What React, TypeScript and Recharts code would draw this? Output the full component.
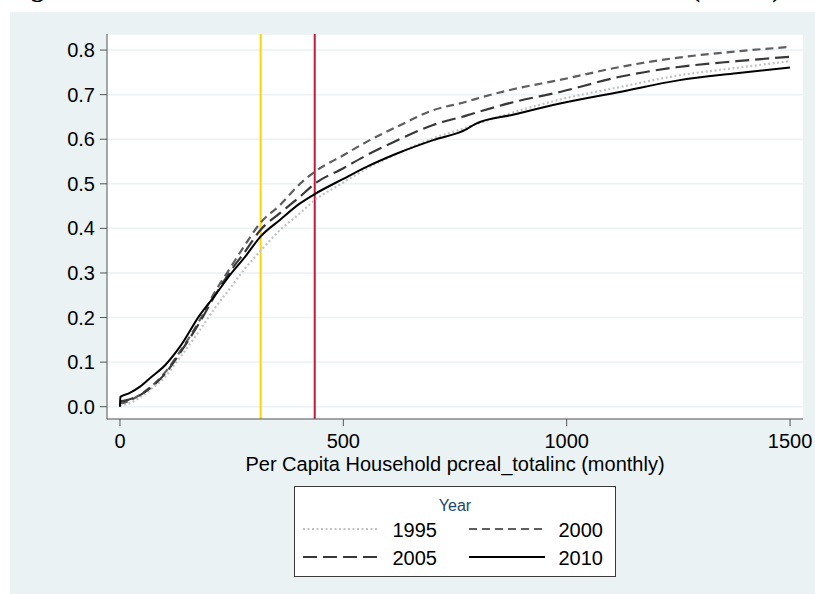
import React from 'react';
import { LineChart, Line, XAxis, YAxis, CartesianGrid, ReferenceLine } from 'recharts';

// Per capita household income (monthly)
const income = [0, 1, 20, 45, 67, 101, 134, 179, 213, 246, 280, 315, 358, 403, 436, 500, 552, 620, 701, 775, 795, 880, 985, 1119, 1250, 1380, 1500];
const cdf1995 = [0.001, 0.002, 0.007, 0.021, 0.037, 0.067, 0.11, 0.172, 0.222, 0.265, 0.31, 0.35, 0.396, 0.434, 0.463, 0.503, 0.534, 0.567, 0.602, 0.626, 0.633, 0.66, 0.689, 0.717, 0.743, 0.76, 0.775];
const cdf2000 = [0.008, 0.008, 0.013, 0.027, 0.043, 0.077, 0.123, 0.195, 0.258, 0.31, 0.363, 0.413, 0.452, 0.5, 0.527, 0.564, 0.594, 0.628, 0.665, 0.684, 0.69, 0.712, 0.733, 0.762, 0.783, 0.797, 0.807];
const cdf2005 = [0.012, 0.012, 0.016, 0.026, 0.041, 0.074, 0.12, 0.19, 0.25, 0.302, 0.348, 0.397, 0.434, 0.471, 0.5, 0.535, 0.564, 0.597, 0.632, 0.653, 0.659, 0.683, 0.706, 0.74, 0.762, 0.775, 0.785];
const cdf2010 = [0.0, 0.022, 0.03, 0.045, 0.064, 0.093, 0.134, 0.206, 0.25, 0.295, 0.336, 0.382, 0.419, 0.456, 0.477, 0.511, 0.538, 0.568, 0.598, 0.622, 0.634, 0.655, 0.68, 0.706, 0.732, 0.748, 0.761];

const xTicks = [0, 500, 1000, 1500];
const yTicks = [0, 0.1, 0.2, 0.3, 0.4, 0.5, 0.6, 0.7, 0.8];
const poverty1 = 315;
const poverty2 = 436;

const xLabel = 'Per Capita Household pcreal_totalinc (monthly)';
const legendTitle = 'Year';
const titleLeft = 'Figure 3: Cumulative Distribution of Household Income';
const titleRight = '(Urban)';

const series = [
  { key: 'y1995', name: '1995', values: cdf1995, color: '#c2c2c2', dash: '2 2.5', width: 2.2 },
  { key: 'y2000', name: '2000', values: cdf2000, color: '#5e5e5e', dash: '8 5', width: 2.2 },
  { key: 'y2005', name: '2005', values: cdf2005, color: '#383838', dash: '14 6', width: 2.2 },
  { key: 'y2010', name: '2010', values: cdf2010, color: '#000000', dash: undefined as string | undefined, width: 2 },
];

const data = income.map((v, i) => {
  const row: Record<string, number> = { income: v };
  series.forEach((s) => { row[s.key] = s.values[i]; });
  return row;
});

const FONT = '"Liberation Sans", Arial, sans-serif';
const SERIF = '"Liberation Serif", "Times New Roman", serif';

const AxisTitle = (props: any) => {
  const vb = props.viewBox || {};
  return (
    <text x={vb.x + vb.width / 2} y={vb.y + 52} textAnchor="middle" fontSize={20} fontFamily={FONT} fill="#000">
      {xLabel}
    </text>
  );
};

const legendCols = [
  { x1: 303, x2: 377, tx: 437 },
  { x1: 469, x2: 545, tx: 603 },
];
const legendRows = [529, 557];

export default function App() {
  return (
    <div style={{ position: 'absolute', left: 0, top: 0, width: 815, height: 594, background: '#ffffff', overflow: 'hidden' }}>
      <div style={{ position: 'absolute', left: 10, top: 12, width: 805, height: 582, background: '#eaf2f3' }} />
      <div style={{ position: 'absolute', left: 0, top: 0 }}>
        <LineChart width={815} height={594} data={data} margin={{ top: 34, right: 12, bottom: 115, left: 7 }}>
          <CartesianGrid vertical={false} horizontal stroke="#eaf2f3" strokeWidth={1.5} fill="#ffffff" />
          <XAxis
            dataKey="income"
            type="number"
            domain={[-29, 1529]}
            allowDataOverflow
            ticks={xTicks}
            height={60}
            tickSize={7}
            tickMargin={8}
            stroke="#555"
            tick={{ fill: '#000', fontSize: 20, fontFamily: FONT }}
            label={<AxisTitle />}
          />
          <YAxis
            type="number"
            domain={[-0.0276, 0.836]}
            allowDataOverflow
            ticks={yTicks}
            width={100}
            tickSize={7}
            tickMargin={5}
            stroke="#555"
            tickFormatter={(v: number) => v.toFixed(1)}
            tick={{ fill: '#000', fontSize: 20, fontFamily: FONT }}
          />
          <ReferenceLine x={poverty1} stroke="#ffd400" strokeWidth={2} />
          <ReferenceLine x={poverty2} stroke="#c8173a" strokeWidth={2} />
          {series.map((s) => (
            <Line
              key={s.key}
              dataKey={s.key}
              type="monotone"
              stroke={s.color}
              strokeWidth={s.width}
              strokeDasharray={s.dash}
              dot={false}
              activeDot={false}
              isAnimationActive={false}
            />
          ))}
        </LineChart>
      </div>
      <svg width={815} height={594} style={{ position: 'absolute', left: 0, top: 0, pointerEvents: 'none' }}>
        <text x={8} y={-3} fontFamily={SERIF} fontWeight="bold" fontSize={26} fill="#000">
          {titleLeft}
        </text>
        <text x={781} y={-3} textAnchor="end" fontFamily={SERIF} fontWeight="bold" fontSize={26} fill="#000">
          {titleRight}
        </text>
        <rect x={294.5} y={486.5} width={321} height={90} fill="#ffffff" stroke="#3a3a3a" strokeWidth={1} />
        <text x={455} y={510.7} textAnchor="middle" fontSize={16} fontFamily={FONT} fill="#1a476f">
          {legendTitle}
        </text>
        {series.map((s, i) => {
          const col = legendCols[i % 2];
          const ry = legendRows[Math.floor(i / 2)];
          return (
            <g key={s.key}>
              <line x1={col.x1} x2={col.x2} y1={ry} y2={ry} stroke={s.color} strokeWidth={s.width} strokeDasharray={s.dash} />
              <text x={col.tx} y={ry + 7.5} textAnchor="end" fontSize={20} fontFamily={FONT} fill="#000">
                {s.name}
              </text>
            </g>
          );
        })}
      </svg>
    </div>
  );
}
